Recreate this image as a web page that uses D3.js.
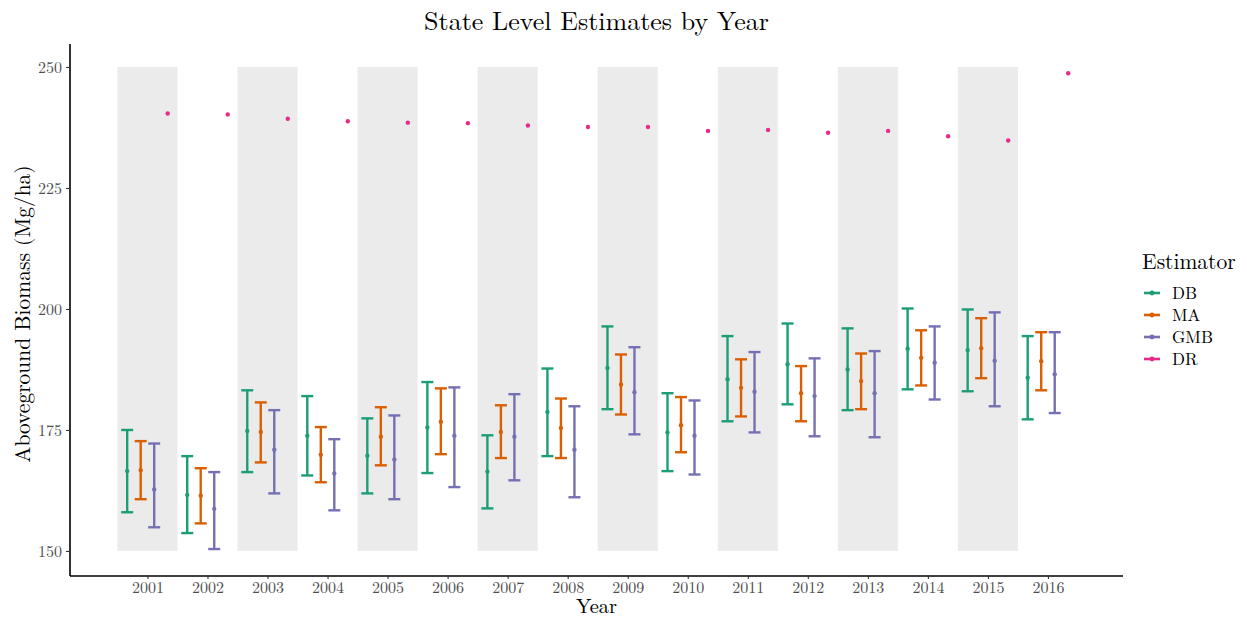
<!DOCTYPE html>
<html>
<head>
<meta charset="utf-8">
<script src="https://cdn.jsdelivr.net/npm/d3@7"></script>
<style>
  body { margin: 0; background: #fff; }
  svg text { font-family: "Latin Modern Roman", "CMU Serif", "Liberation Serif", serif; }
</style>
</head>
<body>
<svg id="chart" width="1247" height="619"></svg>
<script>
// Yearly state-level biomass estimates (Mg/ha) by estimator
const years = [2001, 2002, 2003, 2004, 2005, 2006, 2007, 2008, 2009, 2010, 2011, 2012, 2013, 2014, 2015, 2016];
const estimators = ["DB", "MA", "GMB", "DR"];
const colors = ["#1b9e77", "#d95f02", "#7570b3", "#e7298a"];

const dbEst   = [166.5, 161.6, 174.8, 173.8, 169.7, 175.5, 166.4, 178.7, 187.8, 174.5, 185.5, 188.6, 187.5, 191.8, 191.5, 185.8];
const dbLow   = [158.0, 153.7, 166.3, 165.6, 161.9, 166.1, 158.8, 169.6, 179.3, 166.5, 176.8, 180.3, 179.1, 183.4, 183.0, 177.2];
const dbHigh  = [175.0, 169.6, 183.2, 182.0, 177.4, 184.9, 173.9, 187.7, 196.4, 182.6, 194.4, 197.0, 196.0, 200.1, 199.9, 194.4];

const maEst   = [166.7, 161.4, 174.6, 169.9, 173.6, 176.7, 174.6, 175.4, 184.4, 176.0, 183.7, 182.6, 185.1, 189.9, 191.9, 189.2];
const maLow   = [160.7, 155.7, 168.3, 164.2, 167.7, 170.0, 169.2, 169.2, 178.2, 170.4, 177.8, 176.8, 179.3, 184.2, 185.7, 183.2];
const maHigh  = [172.7, 167.1, 180.7, 175.6, 179.7, 183.6, 180.1, 181.5, 190.6, 181.8, 189.6, 188.2, 190.8, 195.6, 198.1, 195.2];

const gmbEst  = [162.7, 158.7, 170.9, 166.0, 168.9, 173.8, 173.6, 170.9, 182.8, 173.8, 182.9, 182.0, 182.6, 188.9, 189.3, 186.5];
const gmbLow  = [154.9, 150.4, 161.9, 158.4, 160.7, 163.2, 164.6, 161.1, 174.1, 165.8, 174.5, 173.7, 173.5, 181.3, 179.9, 178.5];
const gmbHigh = [172.2, 166.3, 179.1, 173.1, 178.0, 183.8, 182.4, 179.9, 192.1, 181.1, 191.1, 189.8, 191.3, 196.4, 199.3, 195.2];

const drEst   = [240.4, 240.2, 239.3, 238.8, 238.5, 238.4, 237.9, 237.6, 237.6, 236.8, 237.0, 236.4, 236.8, 235.7, 234.8, 248.7];

const shadedYears = [2001, 2003, 2005, 2007, 2009, 2011, 2013, 2015];
const yTicks = [150, 175, 200, 225, 250];

// Long-form rows built from the arrays above
const series = [
  { name: "DB",  est: dbEst,  low: dbLow,  high: dbHigh },
  { name: "MA",  est: maEst,  low: maLow,  high: maHigh },
  { name: "GMB", est: gmbEst, low: gmbLow, high: gmbHigh },
  { name: "DR",  est: drEst,  low: null,   high: null }
];
const rows = [];
series.forEach((s, si) => {
  years.forEach((yr, i) => {
    rows.push({ est: s.name, idx: si, year: yr, value: s.est[i],
                low: s.low ? s.low[i] : null, high: s.high ? s.high[i] : null });
  });
});

const svg = d3.select("#chart");
const panel = { left: 70, right: 1123, top: 44, bottom: 576 };

const x = d3.scaleLinear().domain([1999.71, 2017.25]).range([panel.left, panel.right]);
const y = d3.scaleLinear().domain([144.83, 254.75]).range([panel.bottom, panel.top]);
const color = d3.scaleOrdinal().domain(estimators).range(colors);

// dodge of width 0.9 over four estimators
const dodgeWidth = 0.9;
const dodge = i => (i - (estimators.length - 1) / 2) * dodgeWidth / estimators.length;

// alternating year bands
svg.append("g").selectAll("rect")
  .data(shadedYears)
  .join("rect")
  .attr("x", d => x(d - 0.5))
  .attr("width", d => x(d + 0.5) - x(d - 0.5))
  .attr("y", y(250))
  .attr("height", y(150) - y(250))
  .attr("fill", "#ebebeb");

// error bars
const bars = rows.filter(r => r.low !== null);
const capHalf = 6;
const gBars = svg.append("g");
bars.forEach(r => {
  const cx = x(r.year + dodge(r.idx));
  const c = color(r.est);
  gBars.append("line").attr("x1", cx).attr("x2", cx).attr("y1", y(r.low)).attr("y2", y(r.high))
    .attr("stroke", c).attr("stroke-width", 2.4);
  [r.low, r.high].forEach(v => {
    gBars.append("line").attr("x1", cx - capHalf).attr("x2", cx + capHalf).attr("y1", y(v)).attr("y2", y(v))
      .attr("stroke", c).attr("stroke-width", 2.4);
  });
});

// point estimates
svg.append("g").selectAll("circle")
  .data(rows)
  .join("circle")
  .attr("cx", d => x(d.year + dodge(d.idx)))
  .attr("cy", d => y(d.value))
  .attr("r", 2.2)
  .attr("fill", d => color(d.est));

// axes
const yAxis = d3.axisLeft(y).tickValues(yTicks).tickSize(4).tickPadding(4);
const gy = svg.append("g").attr("transform", `translate(${panel.left},0)`).call(yAxis);
const xAxis = d3.axisBottom(x).tickValues(years).tickFormat(d3.format("d")).tickSize(3).tickPadding(2.5);
const gx = svg.append("g").attr("transform", `translate(0,${panel.bottom})`).call(xAxis);
[gx, gy].forEach(g => {
  g.select(".domain").attr("stroke", "#000").attr("stroke-width", 1.6);
  g.selectAll(".tick line").attr("stroke", "#333").attr("stroke-width", 1.1);
  g.selectAll(".tick text").attr("fill", "#4d4d4d").style("font-size", "16px");
});
gy.select(".domain").attr("d", `M0,${panel.top}V${panel.bottom}`);
gx.select(".domain").attr("d", `M${panel.left},0H${panel.right}`);

// titles
svg.append("text").attr("x", (panel.left + panel.right) / 2).attr("y", 30)
  .attr("text-anchor", "middle").style("font-size", "26px").attr("fill", "#000")
  .text("State Level Estimates by Year");
svg.append("text").attr("x", (panel.left + panel.right) / 2).attr("y", 613)
  .attr("text-anchor", "middle").style("font-size", "20.5px").attr("fill", "#000")
  .text("Year");
svg.append("text").attr("transform", `translate(30,${(panel.top + panel.bottom) / 2 + 4}) rotate(-90)`)
  .attr("text-anchor", "middle").style("font-size", "21.5px").attr("fill", "#000")
  .text("Aboveground Biomass (Mg/ha)");

// legend
const legend = svg.append("g").attr("transform", "translate(1142,0)");
legend.append("text").attr("x", 0).attr("y", 269).style("font-size", "21.5px").text("Estimator");
const keyStep = 22;
const keyTop = 293;
estimators.forEach((e, i) => {
  const ly = keyTop + i * keyStep;
  legend.append("line").attr("x1", 2).attr("x2", 18).attr("y1", ly).attr("y2", ly)
    .attr("stroke", color(e)).attr("stroke-width", 2.6);
  legend.append("circle").attr("cx", 10).attr("cy", ly).attr("r", 2.4).attr("fill", color(e));
  legend.append("text").attr("x", 30).attr("y", ly + 6).style("font-size", "17px").text(e);
});
</script>
</body>
</html>
